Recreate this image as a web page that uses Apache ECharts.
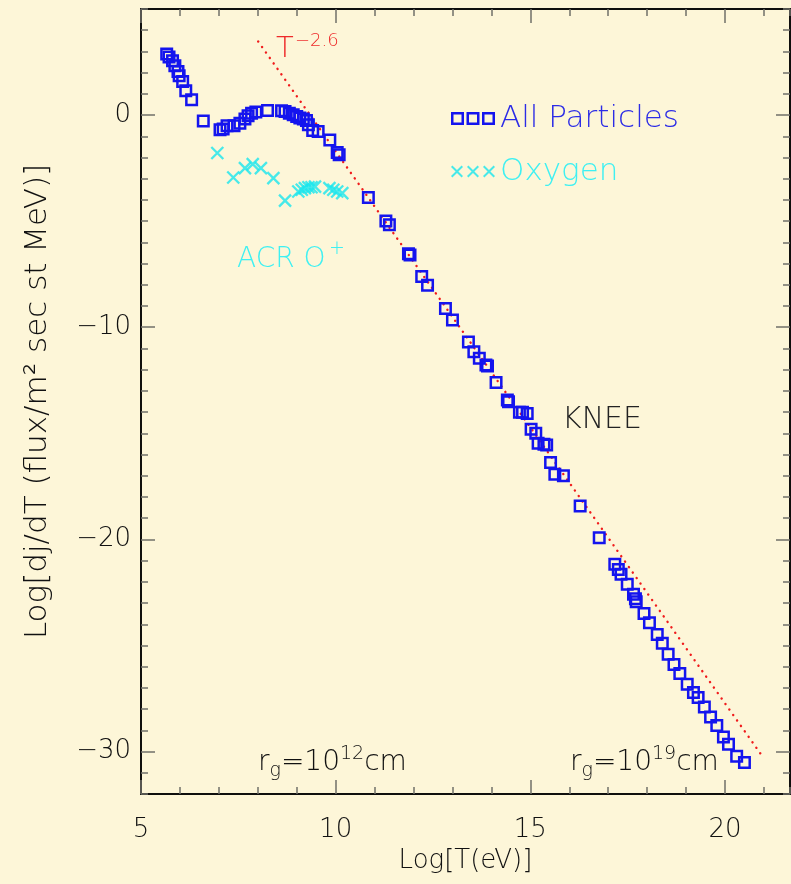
<!DOCTYPE html>
<html>
<head>
<meta charset="utf-8">
<script src="https://cdn.jsdelivr.net/npm/echarts@6/dist/echarts.min.js"></script>
<style>
html,body{margin:0;padding:0;background:#fdf6d8;}
#c{width:791px;height:884px;}
</style>
</head>
<body>
<div id="c"></div>
<script>
// ---- data ----
const allParticlesX = [5.66,5.72,5.81,5.87,5.95,5.98,6.07,6.15,6.30,6.60,7.03,7.11,7.21,7.39,7.54,7.67,7.75,7.84,7.95,8.25,8.61,8.70,8.81,8.91,9.00,9.08,9.17,9.25,9.30,9.41,9.55,9.85,10.04,10.09,10.84,11.29,11.38,11.87,11.91,12.21,12.36,12.82,13.00,13.41,13.55,13.69,13.86,13.90,14.12,14.41,14.44,14.72,14.80,14.92,15.02,15.14,15.20,15.35,15.42,15.52,15.63,15.85,16.28,16.77,17.17,17.26,17.33,17.49,17.65,17.70,17.72,17.92,18.06,18.26,18.39,18.54,18.69,18.84,19.03,19.19,19.31,19.47,19.63,19.79,19.96,20.09,20.30,20.50];
const allParticlesY = [2.88,2.74,2.56,2.33,2.06,1.85,1.58,1.15,0.72,-0.28,-0.69,-0.66,-0.50,-0.50,-0.38,-0.19,-0.03,0.09,0.14,0.22,0.20,0.17,0.09,0.01,-0.07,-0.14,-0.19,-0.25,-0.46,-0.73,-0.77,-1.17,-1.76,-1.87,-3.89,-4.99,-5.17,-6.54,-6.59,-7.61,-8.02,-9.12,-9.66,-10.69,-11.15,-11.46,-11.78,-11.83,-12.61,-13.43,-13.51,-14.01,-14.01,-14.06,-14.81,-15.00,-15.47,-15.52,-15.55,-16.37,-16.93,-17.00,-18.43,-19.92,-21.17,-21.42,-21.64,-22.11,-22.59,-22.80,-22.94,-23.49,-23.93,-24.48,-24.89,-25.41,-25.90,-26.32,-26.83,-27.22,-27.45,-27.90,-28.37,-28.77,-29.31,-29.66,-30.22,-30.52];
const oxygenX = [6.96,7.37,7.67,7.87,8.08,8.40,8.70,9.04,9.13,9.21,9.30,9.38,9.47,9.84,9.94,10.04,10.17];
const oxygenY = [-1.79,-2.94,-2.50,-2.31,-2.50,-2.97,-4.03,-3.60,-3.52,-3.44,-3.40,-3.40,-3.37,-3.44,-3.52,-3.60,-3.68];
// T^-2.6 reference line end points
const powerLawX = [8.01, 20.94];
const powerLawY = [3.47, -30.17];
// axis tick labels
const xTickLabels = [5, 10, 15, 20];
const yTickLabels = [-30, -20, -10, 0];
const seriesNames = ['All Particles', 'Oxygen'];

// ---- chart ----
const BG = '#fdf6d8';
const BLUE = '#1414ee';
const CYAN = '#19e6ee';
const FONT = 'DejaVu Sans';
const FW = 200;
const X_MIN = 5, X_MAX = 21.67, Y_MIN = -32, Y_MAX = 5;

function zip(a, b) { return a.map((v, i) => [v, b[i]]); }

const tickColor = '#707068';
function xAxisDef(pos, major, withLabels, name) {
  return {
    type: 'value', position: pos, min: X_MIN, max: X_MAX, interval: 1,
    gridIndex: 0,
    axisLine: { show: true, onZero: false, lineStyle: { color: '#000', width: 1.5 } },
    axisTick: major
      ? { show: true, inside: true, length: 14, customValues: xTickLabels, lineStyle: { color: tickColor, width: 1.5 } }
      : { show: true, inside: true, length: 7, lineStyle: { color: tickColor, width: 1.5 } },
    axisLabel: withLabels
      ? { show: true, customValues: xTickLabels, margin: 23, color: '#111', fontSize: 26, fontFamily: FONT, fontWeight: FW }
      : { show: false },
    splitLine: { show: false },
    name: name || '', nameLocation: 'middle', nameGap: 51,
    nameTextStyle: { color: '#111', fontSize: 26, fontFamily: FONT, fontWeight: FW }
  };
}
function yAxisDef(pos, major, withLabels, name) {
  return {
    type: 'value', position: pos, min: Y_MIN, max: Y_MAX, interval: 1,
    gridIndex: 0,
    axisLine: { show: true, onZero: false, lineStyle: { color: '#000', width: 1.5 } },
    axisTick: major
      ? { show: true, inside: true, length: 14, customValues: yTickLabels, lineStyle: { color: tickColor, width: 1.5 } }
      : { show: true, inside: true, length: 7, lineStyle: { color: tickColor, width: 1.5 } },
    axisLabel: withLabels
      ? { show: true, customValues: yTickLabels, margin: 10, color: '#111', fontSize: 26, fontFamily: FONT, fontWeight: FW,
          formatter: v => String(v).replace('-', '\u2212') }
      : { show: false },
    splitLine: { show: false },
    name: name || '', nameLocation: 'middle', nameGap: 88, nameRotate: 90,
    nameTextStyle: { color: '#111', fontSize: 31, fontFamily: FONT, fontWeight: FW }
  };
}

const squareIcon = 'path://M0,0h13v13h-13z M2.5,2.5v8h8v-8z M15.5,0h13v13h-13z M18,2.5v8h8v-8z M31,0h13v13h-13z M33.5,2.5v8h8v-8z';
const crossIcon = 'path://M0,1.4L1.4,0L6,4.6L10.6,0L12,1.4L7.4,6L12,10.6L10.6,12L6,7.4L1.4,12L0,10.6L4.6,6z' +
  ' M16,1.4L17.4,0L22,4.6L26.6,0L28,1.4L23.4,6L28,10.6L26.6,12L22,7.4L17.4,12L16,10.6L20.6,6z' +
  ' M32,1.4L33.4,0L38,4.6L42.6,0L44,1.4L39.4,6L44,10.6L42.6,12L38,7.4L33.4,12L32,10.6L36.6,6z';

const chart = echarts.init(document.getElementById('c'), null, { renderer: 'canvas' });
const option = {
  backgroundColor: BG,
  animation: false,
  grid: { left: 141, top: 9, width: 649, height: 785, containLabel: false },
  xAxis: [
    xAxisDef('bottom', false, true, 'Log[T(eV)]'),
    xAxisDef('bottom', true, false),
    xAxisDef('top', false, false),
    xAxisDef('top', true, false)
  ],
  yAxis: [
    yAxisDef('left', false, true, 'Log[dj/dT (flux/m\u00b2 sec st MeV)]'),
    yAxisDef('left', true, false),
    yAxisDef('right', false, false),
    yAxisDef('right', true, false)
  ],
  legend: [
    { data: [{ name: seriesNames[0], icon: squareIcon, itemStyle: { color: BLUE, borderWidth: 0 }, textStyle: { color: '#2c2ce6' } }],
      left: 446, top: 98, itemWidth: 44, itemHeight: 13, itemGap: 10, selectedMode: false,
      textStyle: { fontSize: 31, fontFamily: FONT, fontWeight: FW } },
    { data: [{ name: seriesNames[1], icon: crossIcon, itemStyle: { color: CYAN, borderWidth: 0 }, textStyle: { color: '#3ef0f2' } }],
      left: 446, top: 151, itemWidth: 44, itemHeight: 12, itemGap: 10, selectedMode: false,
      textStyle: { fontSize: 31, fontFamily: FONT, fontWeight: FW } }
  ],
  series: [
    {
      name: 'T^-2.6', type: 'line', data: zip(powerLawX, powerLawY), showSymbol: false, symbol: 'none',
      lineStyle: { color: '#f01c1c', width: 2.4, type: [0.1, 6.6], cap: 'round' }, silent: true, z: 1
    },
    {
      name: seriesNames[0], type: 'scatter', data: zip(allParticlesX, allParticlesY),
      symbol: 'rect', symbolSize: 10.5,
      itemStyle: { color: 'rgba(0,0,0,0)', borderColor: BLUE, borderWidth: 2.5, opacity: 1 }, z: 3
    },
    {
      name: seriesNames[1], type: 'scatter', data: zip(oxygenX, oxygenY),
      symbol: 'path://M0,0L10,10M10,0L0,10', symbolSize: 12,
      itemStyle: { color: 'rgba(0,0,0,0)', borderColor: CYAN, borderWidth: 2.3 }, z: 3
    }
  ],
  graphic: [
    { type: 'text', left: 276, top: 35, style: { text: 'T', fontSize: 29, fontFamily: FONT, fontWeight: FW, fill: '#ee2a2a' } },
    { type: 'text', left: 295, top: 32, style: { text: '\u22122.6', fontSize: 18, fontFamily: FONT, fontWeight: FW, fill: '#ee2a2a' } },
    { type: 'text', left: 237, top: 246, style: { text: 'ACR O', fontSize: 28, fontFamily: FONT, fontWeight: FW, fill: '#3ef0f2' } },
    { type: 'text', left: 329, top: 240, style: { text: '+', fontSize: 19, fontFamily: FONT, fontWeight: FW, fill: '#3ef0f2' } },
    { type: 'text', left: 562, top: 405, style: { text: 'KNEE', fontSize: 30, fontFamily: FONT, fontWeight: FW, fill: '#222' } },
    { type: 'text', left: 258, top: 745, style: {
        text: '{n|r}{sub|g}{n|=10}{sup|12}{n|cm}', fontFamily: FONT, fill: '#111',
        rich: {
          n: { fontSize: 28, lineHeight: 36, fontFamily: FONT, fontWeight: FW, fill: '#111', verticalAlign: 'middle' },
          sub: { fontSize: 19, lineHeight: 18, fontFamily: FONT, fontWeight: FW, fill: '#111', verticalAlign: 'bottom' },
          sup: { fontSize: 19, lineHeight: 18, fontFamily: FONT, fontWeight: FW, fill: '#111', verticalAlign: 'top' }
        } } },
    { type: 'text', left: 570, top: 745, style: {
        text: '{n|r}{sub|g}{n|=10}{sup|19}{n|cm}', fontFamily: FONT, fill: '#111',
        rich: {
          n: { fontSize: 28, lineHeight: 36, fontFamily: FONT, fontWeight: FW, fill: '#111', verticalAlign: 'middle' },
          sub: { fontSize: 19, lineHeight: 18, fontFamily: FONT, fontWeight: FW, fill: '#111', verticalAlign: 'bottom' },
          sup: { fontSize: 19, lineHeight: 18, fontFamily: FONT, fontWeight: FW, fill: '#111', verticalAlign: 'top' }
        } } }
  ]
};
chart.setOption(option);
</script>
</body>
</html>
